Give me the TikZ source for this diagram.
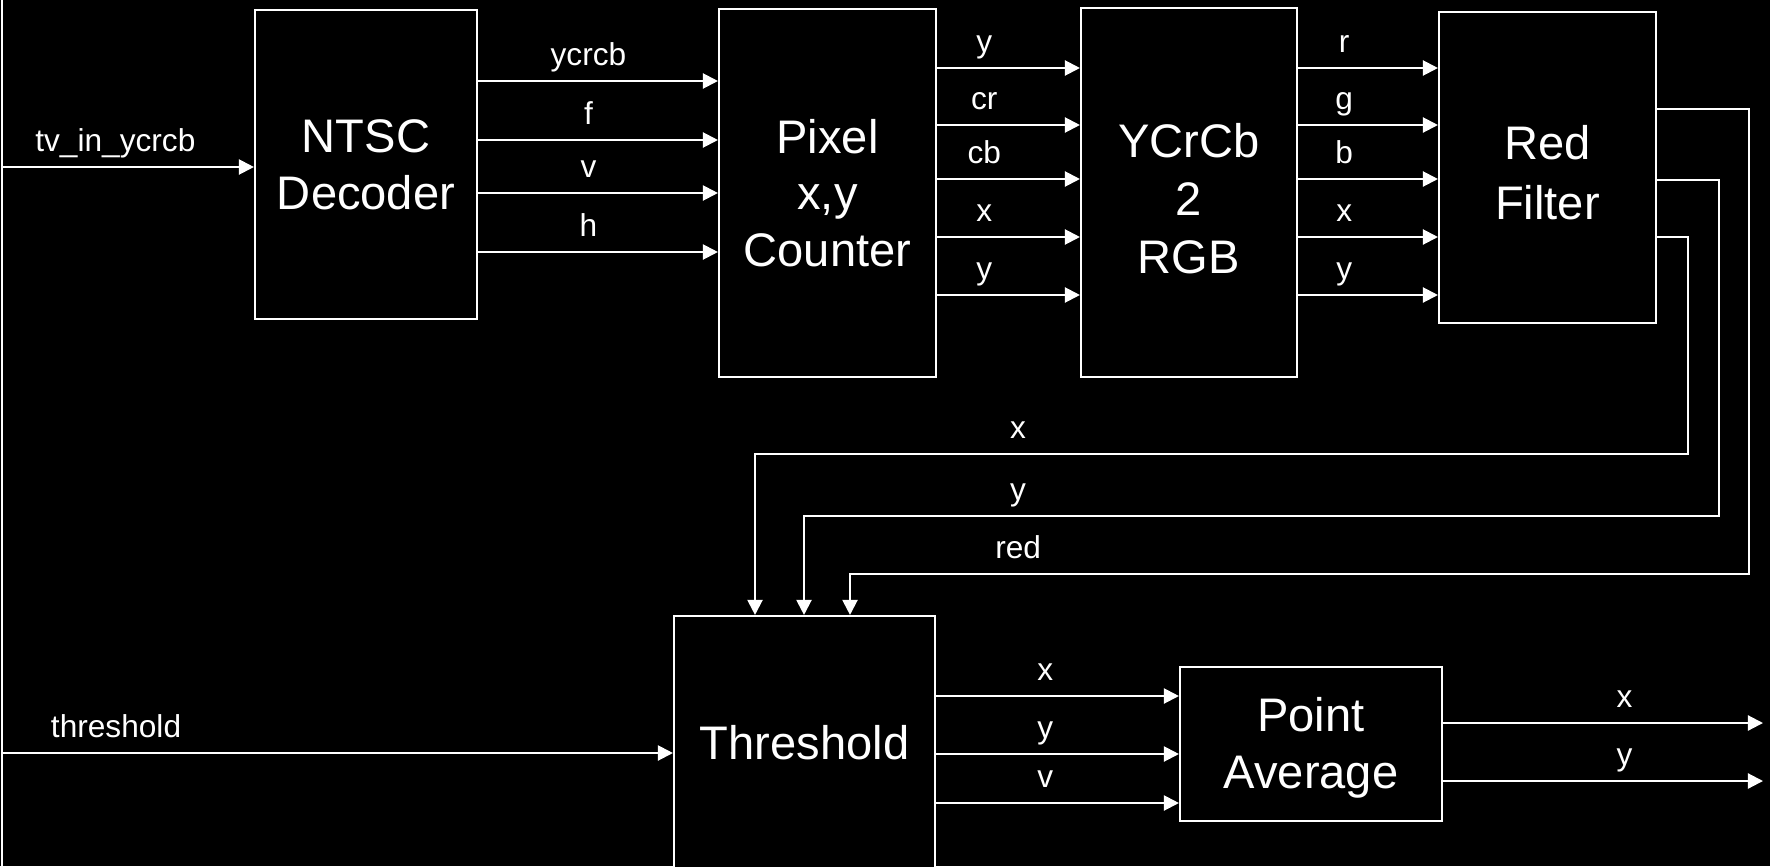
\documentclass[tikz,border=0pt]{standalone}
\usepackage{fontspec}
\setmainfont{Liberation Sans}
\usetikzlibrary{arrows.meta}

\begin{document}
\begin{tikzpicture}[
  block/.style={draw=white, line width=0.6pt, fill=black, text=white, align=center,
    font=\fontsize{13.4}{16.1}\selectfont, inner sep=0pt},
  wire/.style={draw=white, line width=0.6pt},
  sig/.style={wire, -{Triangle[length=4.3pt,width=4.3pt]}},
  lbl/.style={text=white, font=\fontsize{9}{10}\selectfont, anchor=base, yshift=4.5pt, inner sep=0pt}]
  % Background
  \fill[black] (0,0) rectangle (17.7,-8.66);
  \useasboundingbox (0,0) rectangle (17.7,-8.66);
  % Blocks
  \node[block, minimum width=2.22cm, minimum height=3.09cm] (ntsc)   at (3.66,-1.645)  {NTSC\\Decoder};
  \node[block, minimum width=2.17cm, minimum height=3.68cm] (pixel)  at (8.275,-1.93)  {Pixel\\x,y\\Counter};
  \node[block, minimum width=2.16cm, minimum height=3.69cm,
        font=\fontsize{13.4}{16.5}\selectfont]              (ycc)    at (11.89,-1.925) {\rule{0pt}{13pt}YCrCb\\2\\RGB};
  \node[block, minimum width=2.17cm, minimum height=3.11cm,
        font=\fontsize{13.4}{17}\selectfont]                (redf)   at (15.475,-1.675) {\rule{0pt}{12.8pt}Red\\Filter};
  \node[block, minimum width=2.61cm, minimum height=2.54cm] (thresh) at (8.045,-7.43)  {Threshold};
  \node[block, minimum width=2.62cm, minimum height=1.54cm] (ptavg)  at (13.11,-7.44)  {\rule{0pt}{11.9pt}Point\\Average};
  % Input bus on the left
  \coordinate (bus) at (0.02,0);
  \coordinate (busend) at (0.02,-8.66);
  \draw[wire] (bus) -- (busend);
  \draw[sig] (bus |- 0,-1.67) -- node[lbl, pos=0.45] {tv\_in\_ycrcb} (ntsc.west |- 0,-1.67);
  \draw[sig] (bus |- 0,-7.53) -- node[lbl, pos=0.17] {threshold} (thresh.west |- 0,-7.53);
  % Decoder to counter
  \foreach \y/\s in {0.81/ycrcb, 1.40/f, 1.93/v, 2.52/h}
    \draw[sig] (ntsc.east |- 0,-\y) -- node[lbl, pos=0.46] {\s} (pixel.west |- 0,-\y);
  % Counter to colour conversion
  \foreach \y/\s in {0.68/y, 1.25/cr, 1.79/cb, 2.37/x, 2.95/y}
    \draw[sig] (pixel.east |- 0,-\y) -- node[lbl, pos=0.33] {\s} (ycc.west |- 0,-\y);
  % Colour conversion to red filter
  \foreach \y/\s in {0.68/r, 1.25/g, 1.79/b, 2.37/x, 2.95/y}
    \draw[sig] (ycc.east |- 0,-\y) -- node[lbl, pos=0.33] {\s} (redf.west |- 0,-\y);
  % Feedback from red filter down to threshold
  \coordinate (xr) at (16.88,-4.54);   \coordinate (xl) at (7.55,-4.54);
  \coordinate (yr) at (17.19,-5.16);   \coordinate (yl) at (8.04,-5.16);
  \coordinate (rr) at (17.49,-5.74);   \coordinate (rl) at (8.50,-5.74);
  \draw[sig] (redf.east |- 0,-2.37) -| (xr) -- node[lbl, pos=0.718] {x} (xl) -- (xl |- thresh.north);
  \draw[sig] (redf.east |- 0,-1.80) -| (yr) -- node[lbl, pos=0.766] {y} (yl) -- (yl |- thresh.north);
  \draw[sig] (redf.east |- 0,-1.09) -| (rr) -- node[lbl, pos=0.813] {red} (rl) -- (rl |- thresh.north);
  % Threshold to point average
  \foreach \y/\s in {6.96/x, 7.54/y, 8.03/v}
    \draw[sig] (thresh.east |- 0,-\y) -- node[lbl, pos=0.45] {\s} (ptavg.west |- 0,-\y);
  % Outputs
  \coordinate (outx) at (17.63,-7.23);
  \coordinate (outy) at (17.63,-7.81);
  \draw[sig] (ptavg.east |- outx) -- node[lbl, pos=0.567] {x} (outx);
  \draw[sig] (ptavg.east |- outy) -- node[lbl, pos=0.567] {y} (outy);
\end{tikzpicture}
\end{document}
